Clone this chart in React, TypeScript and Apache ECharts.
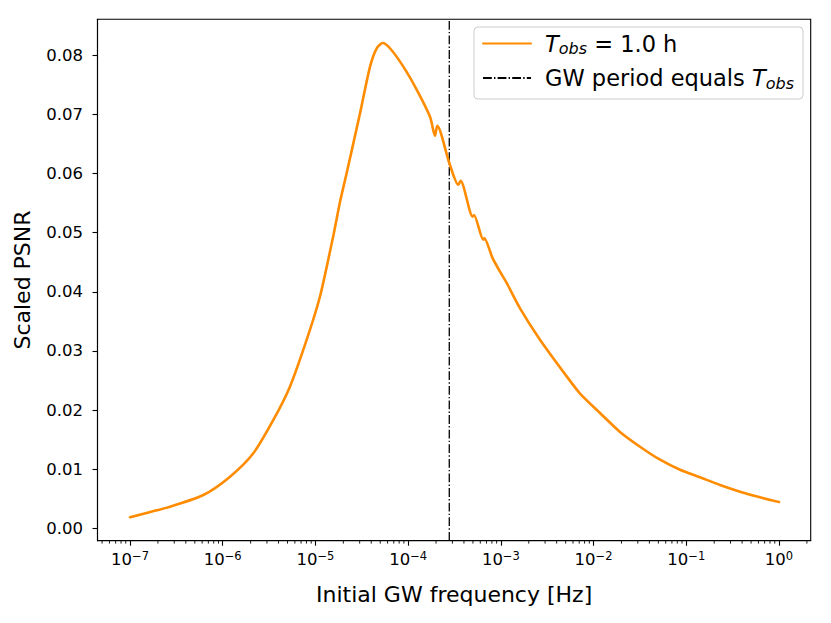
import React, { useEffect, useRef } from "react";
import * as echarts from "echarts";

// log10 of initial GW frequency [Hz]
const logFreq = [
  -7.0, -6.569, -6.209, -5.921, -5.67, -5.454, -5.274, -5.094, -4.951, -4.807,
  -4.735, -4.663, -4.519, -4.411, -4.339, -4.274, -4.196, -4.052, -3.908, -3.764,
  -3.71, -3.686, -3.556, -3.459, -3.434, -3.304, -3.29, -3.189, -3.18, -3.089,
  -3.009, -2.937, -2.793, -2.578, -2.29, -2.146, -1.93, -1.715, -1.499, -1.283,
  -1.067, -0.852, -0.636, -0.42, -0.205, 0.0,
];
// Scaled PSNR
const psnr = [
  0.00188, 0.00366, 0.00563, 0.00873, 0.01269, 0.01832, 0.024, 0.0319, 0.0392, 0.0495,
  0.0552, 0.0601, 0.0702, 0.0781, 0.0812, 0.0821, 0.0812, 0.0781, 0.0742, 0.0696,
  0.0664, 0.0681, 0.0618, 0.0581, 0.0588, 0.0527, 0.053, 0.0488, 0.0491, 0.0457,
  0.0434, 0.0415, 0.0372, 0.0319, 0.0257, 0.0228, 0.0195, 0.0163, 0.0138, 0.0116,
  0.0099, 0.00863, 0.00733, 0.0062, 0.00524, 0.00445,
];
const tObsHours = 1.0;
const xMajorTicks = [-7, -6, -5, -4, -3, -2, -1, 0];
const yTicks = [0, 0.01, 0.02, 0.03, 0.04, 0.05, 0.06, 0.07, 0.08];
const xMin = -7.3506;
const xMax = 0.342;
const yMin = -0.0021;
const yMax = 0.0861;

const NAME_A = "T_obs = 1.0 h";
const NAME_B = "GW period equals T_obs";
const FONT = "DejaVu Sans";

export default function App() {
  const ref = useRef<HTMLDivElement>(null);
  useEffect(() => {
    if (!ref.current) return;
    const chart = echarts.init(ref.current, null, { renderer: "svg" });
    const periodLine = Math.log10(1 / (tObsHours * 3600));
    const minorTicks: number[][] = [];
    for (let n = -8; n <= 0; n++) {
      for (let k = 2; k <= 9; k++) {
        const v = Math.log10(k) + n;
        if (v > xMin && v < xMax) minorTicks.push([v, yMin]);
      }
    }
    const supLabel = (v: number) =>
      "{b|10}{s|" + (v < 0 ? "\u2212" + Math.abs(v) : String(v)) + "}";
    chart.setOption({
      animation: false,
      backgroundColor: "#ffffff",
      textStyle: { fontFamily: FONT },
      grid: {
        left: 97.5,
        top: 19.3,
        width: 713.2,
        height: 521.4,
        show: true,
        borderColor: "#000",
        borderWidth: 1.1,
        backgroundColor: "transparent",
        containLabel: false,
      },
      legend: {
        data: [NAME_A, NAME_B],
        orient: "vertical",
        right: 28,
        top: 27,
        padding: [5, 9, 8, 8],
        itemGap: 10,
        itemWidth: 48,
        itemHeight: 14,
        backgroundColor: "rgba(255,255,255,0.8)",
        borderColor: "#cccccc",
        borderWidth: 1,
        borderRadius: 4,
        selectedMode: false,
        itemStyle: { opacity: 0 },
        formatter: (name: string) =>
          name === NAME_A
            ? "{it|T}{sub|obs}{n| = 1.0 h}"
            : "{n|GW period equals }{it|T}{sub|obs}",
        textStyle: {
          fontFamily: FONT,
          fontSize: 22.5,
          color: "#000",
          padding: [0, 0, 0, 9],
          rich: {
            n: { fontFamily: FONT, fontSize: 22.5, lineHeight: 26, color: "#000" },
            it: { fontFamily: FONT, fontSize: 22.5, fontStyle: "italic", lineHeight: 26, color: "#000" },
            sub: { fontFamily: FONT, fontSize: 16, fontStyle: "italic", lineHeight: 11, verticalAlign: "bottom", color: "#000" },
          },
        },
      },
      xAxis: {
        type: "value",
        min: xMin,
        max: xMax,
        name: "Initial GW frequency [Hz]",
        nameLocation: "middle",
        nameGap: 43,
        nameTextStyle: { fontFamily: FONT, fontSize: 22, color: "#000" },
        splitLine: { show: false },
        axisLine: { show: true, onZero: false, lineStyle: { color: "#000", width: 1.1 } },
        axisTick: { show: true, customValues: xMajorTicks, length: 5, lineStyle: { color: "#000", width: 1.1 } },
        axisLabel: {
          show: true,
          customValues: xMajorTicks,
          margin: 9,
          formatter: (v: number) => supLabel(Math.round(v)),
          rich: {
            b: { fontFamily: FONT, fontSize: 16.5, lineHeight: 20, color: "#000" },
            s: { fontFamily: FONT, fontSize: 11.5, lineHeight: 6, verticalAlign: "top", color: "#000" },
          },
        },
      },
      yAxis: {
        type: "value",
        min: yMin,
        max: yMax,
        name: "Scaled PSNR",
        nameLocation: "middle",
        nameGap: 64,
        nameTextStyle: { fontFamily: FONT, fontSize: 22, color: "#000" },
        splitLine: { show: false },
        axisLine: { show: true, onZero: false, lineStyle: { color: "#000", width: 1.1 } },
        axisTick: { show: true, customValues: yTicks, length: 5, lineStyle: { color: "#000", width: 1.1 } },
        axisLabel: {
          show: true,
          customValues: yTicks,
          margin: 14.5,
          fontFamily: FONT,
          fontSize: 16.5,
          color: "#000",
          formatter: (v: number) => v.toFixed(2),
        },
      },
      series: [
        {
          name: NAME_A,
          type: "line",
          data: logFreq.map((x, i) => [x, psnr[i]]),
          symbol: "none",
          showSymbol: false,
          smooth: 0.25,
          lineStyle: { color: "#ff8c00", width: 2.6, join: "round", cap: "round" },
          itemStyle: { color: "#ff8c00" },
          z: 3,
        },
        {
          name: NAME_B,
          type: "line",
          data: [
            [periodLine, yMin],
            [periodLine, yMax],
          ],
          symbol: "none",
          showSymbol: false,
          lineStyle: { color: "#000", width: 1.3, type: [8.8, 2.2, 1.4, 2.2] },
          itemStyle: { color: "#000" },
          z: 2,
        },
        {
          type: "custom",
          name: "minor",
          data: minorTicks,
          encode: { x: 0, y: 1 },
          clip: false,
          silent: true,
          renderItem: (params: any, api: any) => {
            const p = api.coord([api.value(0), yMin]);
            return {
              type: "line",
              shape: { x1: p[0], y1: p[1], x2: p[0], y2: p[1] + 2.9 },
              style: { stroke: "#000", lineWidth: 0.9 },
            };
          },
        },
      ],
    });
    return () => chart.dispose();
  }, []);
  return (
    <div
      ref={ref}
      style={{ position: "absolute", left: 0, top: 0, width: 831, height: 623 }}
    />
  );
}
